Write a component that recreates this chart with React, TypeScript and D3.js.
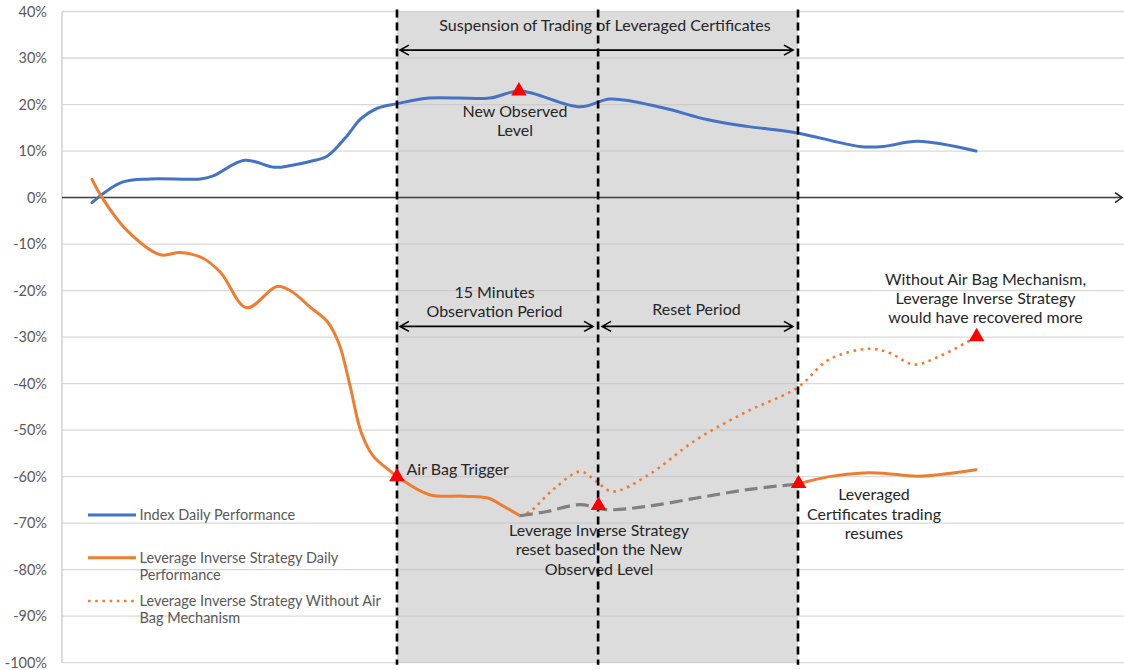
import React, { useEffect } from "react";
import * as d3 from "d3";

type Pt = [number, number];

// y-axis ticks (percent)
const yTicks: number[] = [40, 30, 20, 10, 0, -10, -20, -30, -40, -50, -60, -70, -80, -90, -100];

// Event times (x units)
const tTrigger = 15.18;
const tReset = 25.19;
const tResume = 35.14;

// Index Daily Performance
const indexPerf: Pt[] = [
  [0, -1.1], [1.5, 3.3], [2.9, 4.0], [5.4, 4.0], [6.0, 4.6], [7.6, 8.0], [9.1, 6.5],
  [9.9, 6.9], [10.9, 7.8], [11.7, 8.9], [12.6, 12.8], [13.4, 17.0], [14.2, 19.2],
  [15.2, 20.2], [16.8, 21.4], [19.8, 21.4], [21.3, 22.9], [24.3, 19.5],
  [25.8, 21.2], [28.4, 19.3], [30.6, 16.8], [32.6, 15.3], [35.1, 13.9], [38.2, 11.0],
  [39.4, 11.0], [41.1, 12.1], [44, 10.0],
];

// Leverage Inverse Strategy Daily Performance (before reset)
const levPerfA: Pt[] = [
  [0, 3.9], [0.5, 0], [1.7, -6.9], [3.4, -12.3], [4.4, -11.8], [5.5, -13.0], [6.4, -16.1],
  [7.7, -23.7], [9.2, -19.1], [9.9, -20.1], [10.9, -23.7], [11.7, -26.6], [12.3, -31.5],
  [12.85, -40.6], [13.4, -50.5], [14.0, -55.6], [14.7, -58.3],
  [15.2, -60.0], [16.8, -63.9], [18.5, -64.2], [19.7, -64.6], [20.5, -66.4], [21.3, -68.4],
];

// Leverage Inverse Strategy Daily Performance (reset period, grey dashed)
const levPerfReset: Pt[] = [
  [21.3, -68.4], [22.65, -67.5], [24.3, -66.0], [25.6, -67.1], [27.6, -66.4], [30.1, -64.6],
  [32.6, -62.8], [35.1, -61.6],
];

// Leverage Inverse Strategy Daily Performance (after trading resumes)
const levPerfB: Pt[] = [
  [35.1, -61.6], [36.7, -60.0], [38.4, -59.2], [39.5, -59.3], [41.1, -59.9], [44, -58.5],
];

// Leverage Inverse Strategy Without Air Bag Mechanism
const levNoAirBag: Pt[] = [
  [21.3, -68.4], [21.8, -67.5], [22.95, -62.8], [24.3, -58.9], [25.1, -61.0], [25.9, -63.2],
  [27.6, -59.9], [30.1, -52.0], [32.6, -46.0], [35.1, -40.9], [36.7, -34.8], [38.7, -32.5],
  [39.7, -33.4], [40.9, -35.9], [42.2, -34.1], [44, -30.0],
];

// Red triangle markers
const markers: Pt[] = [[15.18, -60.0], [21.25, 22.9], [25.21, -66.2], [35.17, -61.5], [44.03, -29.9]];

const FONT = "Lato, 'Open Sans', sans-serif";
const BLUE = "#4472C4";
const ORANGE = "#ED7D31";

export default function App() {
  useEffect(() => {
    document.body.style.margin = "0";
  }, []);

  const W = 1124, H = 670;
  const plotLeft = 62, plotRight = 1124, plotTop = 11.5, plotBottom = 662.7;

  const x = d3.scaleLinear().domain([0, 44]).range([92, 976]);
  const y = d3.scaleLinear().domain([-100, 40]).range([plotBottom, plotTop]);
  const line = d3
    .line<Pt>()
    .x((d) => x(d[0]))
    .y((d) => y(d[1]))
    .curve(d3.curveCatmullRom.alpha(0.5));
  const tri = d3.symbol().type(d3.symbolTriangle).size(105)();

  const dblArrow = (x1: number, x2: number, yy: number) =>
    `M${x1},${yy}L${x2},${yy}M${x1 + 9},${yy - 5}L${x1},${yy}L${x1 + 9},${yy + 5}M${x2 - 9},${yy - 5}L${x2},${yy}L${x2 - 9},${yy + 5}`;

  const xTrig = x(tTrigger), xReset = x(tReset), xRes = x(tResume);
  const y0 = y(0);

  const textStyle = { fontFamily: FONT, fontSize: 16, fill: "#262626" } as const;
  const legStyle = { fontFamily: FONT, fontSize: 14.5, fill: "#595959" } as const;

  const Multi = ({ cx, by, lines, anchor = "middle" }: { cx: number; by: number; lines: string[]; anchor?: string }) => (
    <text style={textStyle} textAnchor={anchor as any}>
      {lines.map((l, i) => (
        <tspan key={i} x={cx} y={by + i * 19.3}>{l}</tspan>
      ))}
    </text>
  );

  return (
    <svg width={W} height={H} style={{ display: "block", background: "#fff" }}>
      {/* shaded suspension period */}
      <rect x={xTrig} y={plotTop} width={xRes - xTrig} height={plotBottom - plotTop} fill="#DCDCDC" />
      {/* gridlines */}
      {yTicks.map((t) => (
        <line key={t} x1={plotLeft} x2={plotRight} y1={y(t)} y2={y(t)} stroke="#BFBFBF" strokeOpacity={0.6} strokeWidth={1.3} />
      ))}
      {/* left axis */}
      <line x1={plotLeft} x2={plotLeft} y1={plotTop} y2={plotBottom} stroke="#D0D0D0" strokeWidth={1.5} />
      {/* tick labels */}
      {yTicks.map((t) => (
        <text key={t} x={47} y={y(t)} dy="0.36em" textAnchor="end" style={{ fontFamily: FONT, fontSize: 14.5, fill: "#595959" }}>
          {`${t}%`}
        </text>
      ))}
      {/* x axis with arrow */}
      <path d={`M${plotLeft},${y0}L${plotRight - 2},${y0}`} stroke="#404040" strokeWidth={1.6} fill="none" />
      <path d={`M${plotRight - 9},${y0 - 5}L${plotRight - 2},${y0}L${plotRight - 9},${y0 + 5}`} stroke="#262626" strokeWidth={1.6} fill="none" />

      {/* series */}
      <path d={line(indexPerf)!} fill="none" stroke={BLUE} strokeWidth={3} strokeLinecap="round" />
      <path d={line(levPerfA)!} fill="none" stroke={ORANGE} strokeWidth={3} strokeLinecap="round" />
      <path d={line(levPerfB)!} fill="none" stroke={ORANGE} strokeWidth={3} strokeLinecap="round" />
      <path d={line(levNoAirBag)!} fill="none" stroke={ORANGE} strokeWidth={2.6} strokeDasharray="2.6 4.6" />
      <path d={line(levPerfReset)!} fill="none" stroke="#808080" strokeWidth={3.2} strokeDasharray="13 6" />

      {/* annotations */}
      <text x={605} y={y(35.9)} textAnchor="middle" style={textStyle}>Suspension of Trading of Leveraged Certificates</text>
      <Multi cx={515} by={y(17.3)} lines={["New Observed", "Level"]} />
      <Multi cx={494.5} by={y(-21.5)} lines={["15 Minutes", "Observation Period"]} />
      <text x={696.5} y={y(-25.2)} textAnchor="middle" style={textStyle}>Reset Period</text>
      <text x={406.5} y={y(-59.6)} style={textStyle}>Air Bag Trigger</text>
      <Multi cx={599} by={y(-72.8)} lines={["Leverage Inverse Strategy", "reset based on the New", "Observed Level"]} />
      <Multi cx={874} by={y(-65.1)} lines={["Leveraged", "Certificates trading", "resumes"]} />
      <Multi cx={985.5} by={y(-18.7)} lines={["Without Air Bag Mechanism,", "Leverage Inverse Strategy", "would have recovered more"]} />

      {/* arrows */}
      <path d={dblArrow(xTrig + 3, xRes - 5, y(31.7))} stroke="#000" strokeWidth={1.6} fill="none" />
      <path d={dblArrow(xTrig + 3, xReset - 5, y(-27.7))} stroke="#000" strokeWidth={1.6} fill="none" />
      <path d={dblArrow(xReset + 4, xRes - 5, y(-27.7))} stroke="#000" strokeWidth={1.6} fill="none" />

      {/* event dashed lines */}
      {[tTrigger, tReset, tResume].map((t) => (
        <line key={t} x1={x(t)} x2={x(t)} y1={plotTop - 2} y2={plotBottom + 2} stroke="#000" strokeWidth={2.6} strokeDasharray="8 5" />
      ))}

      {/* markers */}
      {markers.map((m, i) => (
        <path key={i} d={tri!} transform={`translate(${x(m[0])},${y(m[1])})`} fill="#FF0000" />
      ))}

      {/* legend */}
      <line x1={88} x2={136} y1={515} y2={515} stroke={BLUE} strokeWidth={3} />
      <text x={139.5} y={519.5} style={legStyle}>Index Daily Performance</text>
      <line x1={88} x2={136} y1={557.7} y2={557.7} stroke={ORANGE} strokeWidth={3} />
      <text style={legStyle}>
        <tspan x={139.5} y={562.7}>Leverage Inverse Strategy Daily</tspan>
        <tspan x={139.5} y={579.5}>Performance</tspan>
      </text>
      <line x1={88} x2={136} y1={601} y2={601} stroke={ORANGE} strokeWidth={2.6} strokeDasharray="2.6 4.6" />
      <text style={legStyle}>
        <tspan x={139.5} y={605.7}>Leverage Inverse Strategy Without Air</tspan>
        <tspan x={139.5} y={622.7}>Bag Mechanism</tspan>
      </text>
    </svg>
  );
}
